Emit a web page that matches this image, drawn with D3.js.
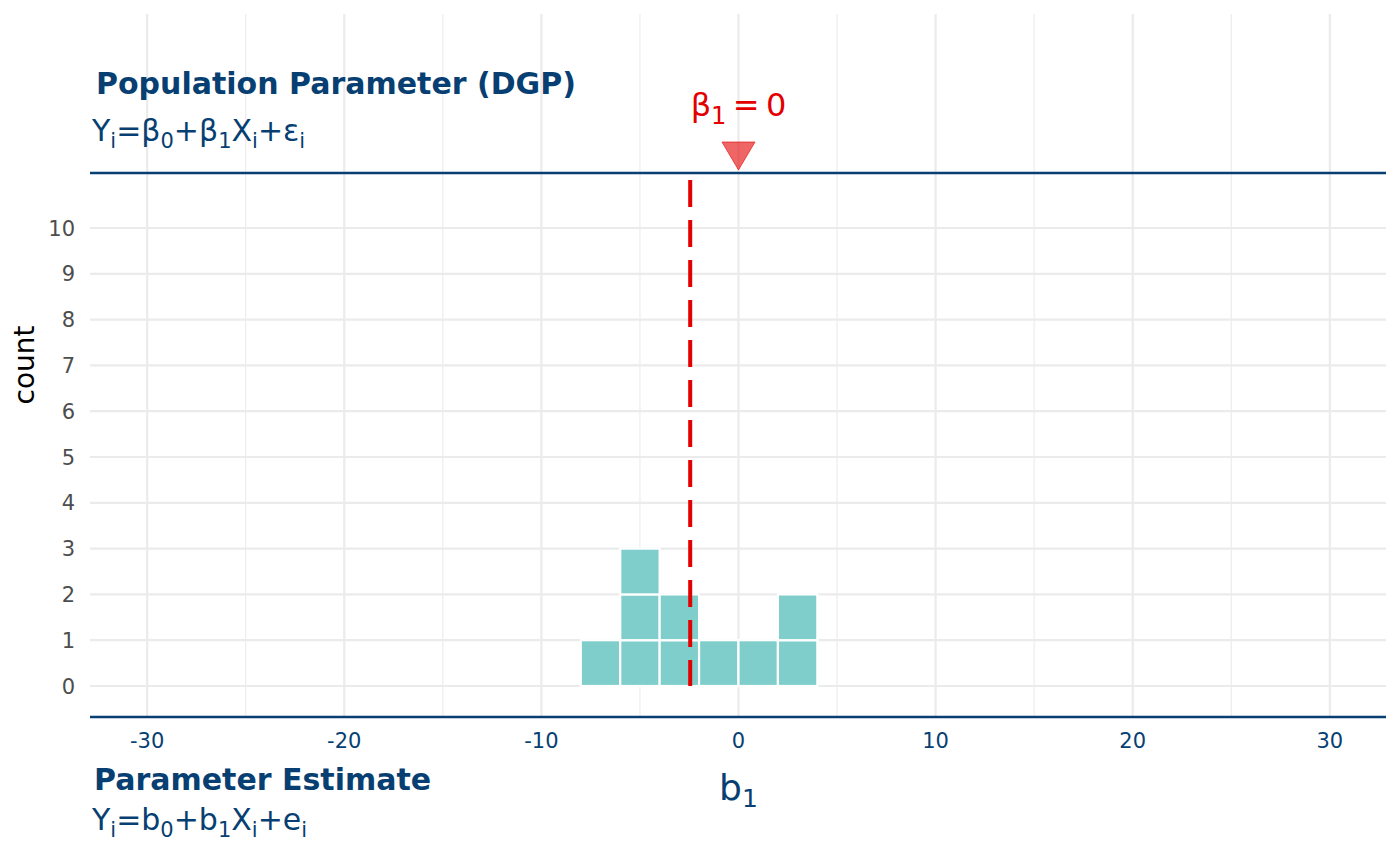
<!DOCTYPE html>
<html><head><meta charset="utf-8">
<script src="https://cdn.jsdelivr.net/npm/d3@7"></script>
<style>
html,body{margin:0;padding:0;background:#fff;}
text{font-family:"DejaVu Sans",sans-serif;}
</style></head>
<body>
<svg id="chart" width="1400" height="866"></svg>
<script>
// ---- data ----
const binLefts = [-8, -6, -4, -2, 0, 2];
const binCounts = [1, 3, 2, 1, 1, 2];
const binWidth = 2;
const sampleMean = -2.45;
const beta1 = 0;
const xTicks = [-30, -20, -10, 0, 10, 20, 30];
const xMinorTicks = [-25, -15, -5, 5, 15, 25];
const yTicks = [0, 1, 2, 3, 4, 5, 6, 7, 8, 9, 10];

// ---- layout ----
const panel = {left: 90, right: 1386, top: 14, bottom: 717};
const navy = "#073f72";
const red = "#e30000";

const svg = d3.select("#chart");
const x = d3.scaleLinear().domain([-32.9, 32.85]).range([panel.left, panel.right]);
const y = d3.scaleLinear().domain([0, 10]).range([686, 228]);
const topLineY = 173;

// grid
const g = svg.append("g");
g.selectAll("line.vminor").data(xMinorTicks).join("line")
  .attr("x1", d => x(d)).attr("x2", d => x(d))
  .attr("y1", panel.top).attr("y2", panel.bottom)
  .attr("stroke", "#ebebeb").attr("stroke-width", 1.1);
g.selectAll("line.vmajor").data(xTicks).join("line")
  .attr("x1", d => x(d)).attr("x2", d => x(d))
  .attr("y1", panel.top).attr("y2", panel.bottom)
  .attr("stroke", "#ebebeb").attr("stroke-width", 2.2);
g.selectAll("line.hmajor").data(yTicks).join("line")
  .attr("x1", panel.left).attr("x2", panel.right)
  .attr("y1", d => y(d)).attr("y2", d => y(d))
  .attr("stroke", "#ebebeb").attr("stroke-width", 2.2);

// histogram squares (one per count unit)
const squares = [];
binLefts.forEach((b, i) => {
  for (let k = 0; k < binCounts[i]; k++) squares.push({x0: b, x1: b + binWidth, k});
});
svg.append("g").selectAll("rect").data(squares).join("rect")
  .attr("x", d => x(d.x0))
  .attr("width", d => x(d.x1) - x(d.x0))
  .attr("y", d => y(d.k + 1))
  .attr("height", d => y(d.k) - y(d.k + 1))
  .attr("fill", "#80cecb")
  .attr("stroke", "#ffffff").attr("stroke-width", 2.2);

// dashed mean line
svg.append("line")
  .attr("x1", x(sampleMean)).attr("x2", x(sampleMean))
  .attr("y1", 180).attr("y2", y(0))
  .attr("stroke", red).attr("stroke-width", 4)
  .attr("stroke-dasharray", "27,13");

// axis lines (navy)
svg.append("line").attr("x1", panel.left).attr("x2", panel.right)
  .attr("y1", topLineY).attr("y2", topLineY)
  .attr("stroke", navy).attr("stroke-width", 2.7);
svg.append("line").attr("x1", panel.left).attr("x2", panel.right)
  .attr("y1", panel.bottom).attr("y2", panel.bottom)
  .attr("stroke", navy).attr("stroke-width", 2.7);

// triangle marker at beta1
const bx = x(beta1);
svg.append("path")
  .attr("d", `M${bx - 16.5},142 L${bx + 16.5},142 L${bx},170 Z`)
  .attr("fill", red).attr("fill-opacity", 0.6)
  .attr("stroke", red).attr("stroke-opacity", 0.6).attr("stroke-width", 1);

// beta1 = 0 label
const lab = svg.append("text").attr("x", bx).attr("y", 116)
  .attr("text-anchor", "middle").attr("fill", red).attr("font-size", 32);
lab.append("tspan").text("β");
lab.append("tspan").attr("font-size", 24).attr("dy", 8).text("1");
lab.append("tspan").attr("dy", -8).text("\u2009=\u2009" + beta1);

// y tick labels
svg.append("g").selectAll("text").data(yTicks).join("text")
  .attr("x", 75).attr("y", d => y(d)).attr("dy", "0.36em")
  .attr("text-anchor", "end").attr("fill", "#4d4d4d").attr("font-size", 21)
  .text(d => d);

// x tick labels
svg.append("g").selectAll("text").data(xTicks).join("text")
  .attr("x", d => x(d)).attr("y", 748)
  .attr("text-anchor", "middle").attr("fill", navy).attr("font-size", 21)
  .text(d => d);

// axis titles
svg.append("text").attr("transform", "translate(34,365) rotate(-90)")
  .attr("text-anchor", "middle").attr("fill", "#000").attr("font-size", 28)
  .text("count");
const bt = svg.append("text").attr("x", bx).attr("y", 800)
  .attr("text-anchor", "middle").attr("fill", navy).attr("font-size", 36);
bt.append("tspan").text("b");
bt.append("tspan").attr("font-size", 25).attr("dy", 7).text("1");

// titles
svg.append("text").attr("x", 96).attr("y", 94)
  .attr("fill", navy).attr("font-size", 30).attr("font-weight", "bold")
  .text("Population Parameter (DGP)");
svg.append("text").attr("x", 94).attr("y", 790)
  .attr("fill", navy).attr("font-size", 30).attr("font-weight", "bold")
  .text("Parameter Estimate");

function mathLine(xp, yp, parts) {
  const t = svg.append("text").attr("x", xp).attr("y", yp)
    .attr("fill", navy).attr("font-size", 30);
  let sub = false;
  parts.forEach(p => {
    const isSub = p[1] === "sub";
    const ts = t.append("tspan").text(p[0]);
    if (isSub && !sub) ts.attr("dy", 7).attr("font-size", 21);
    else if (!isSub && sub) ts.attr("dy", -7);
    else if (isSub) ts.attr("font-size", 21);
    sub = isSub;
  });
  return t;
}
mathLine(92, 141, [["Y"],["i","sub"],["=β"],["0","sub"],["+β"],["1","sub"],["X"],["i","sub"],["+ε"],["i","sub"]]);
mathLine(92, 830, [["Y"],["i","sub"],["=b"],["0","sub"],["+b"],["1","sub"],["X"],["i","sub"],["+e"],["i","sub"]]);
</script>
</body></html>
